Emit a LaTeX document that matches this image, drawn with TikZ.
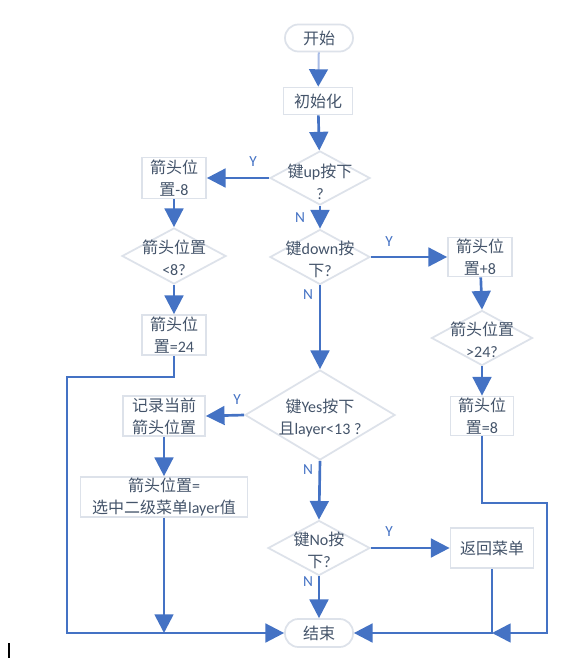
\documentclass[tikz,border=0pt]{standalone}
\usepackage{fontspec}
\setmainfont{Carlito}
\newfontfamily\cjk{Noto Sans CJK SC}
\usetikzlibrary{arrows.meta,shapes.geometric}
\definecolor{ab}{HTML}{4472C4}
\definecolor{al}{HTML}{A9BCE6}
\definecolor{bd}{HTML}{DDE2EA}
\definecolor{tx}{HTML}{44546A}
\newcommand\zh[1]{{\cjk #1}}
\begin{document}
\begin{tikzpicture}[x=0.75pt,y=-0.75pt,
 base/.style={draw=bd,line width=1.3pt,text=tx,font=\fontsize{12pt}{16.5pt}\selectfont,align=center,inner sep=0pt},
 box/.style={base,rectangle},
 term/.style={base,rectangle,rounded corners=10pt},
 dia/.style={base,diamond},
 txt/.style={text=tx,font=\fontsize{12pt}{16.5pt}\selectfont,align=center,inner sep=0pt},
 lab/.style={text=ab,font=\fontsize{11.5pt}{13pt}\selectfont,inner sep=0pt},
 flow/.style={draw=ab,line width=2pt,-{Triangle[length=14pt,width=14pt]}},
 link/.style={draw=ab,line width=2pt}]
\fill[white] (0,0) rectangle (580,665);
\useasboundingbox (0,0) rectangle (580,665);
% nodes
\node[term,minimum width=51pt,minimum height=20.25pt] (start) at (319,38) {\zh{开始}};
\node[box,minimum width=51.75pt,minimum height=20.25pt] (init) at (318,101) {\zh{初始化}};
\node[dia,minimum width=75pt,minimum height=40.5pt] (d1) at (320,178) {};
\node[txt] (t1) at (320,182) {\zh{键}up\zh{按下}\\?};
\node[box,minimum width=48pt,minimum height=30.75pt] (bm8) at (174,178) {\zh{箭头位}\\\zh{置}-8};
\node[dia,minimum width=78pt,minimum height=42pt] (d2) at (174,256) {};
\node[txt] (t2) at (174,258) {\zh{箭头位置}\\<8?};
\node[box,minimum width=48pt,minimum height=30pt] (b24) at (174,335) {\zh{箭头位}\\\zh{置}=24};
\node[dia,minimum width=75pt,minimum height=41.25pt] (d3) at (320,257) {};
\node[txt] (t3) at (320,259) {\zh{键}down\zh{按}\\\zh{下}?};
\node[box,minimum width=48pt,minimum height=29.25pt] (bp8) at (480,257) {\zh{箭头位}\\\zh{置}+8};
\node[dia,minimum width=75.75pt,minimum height=41.25pt] (d4) at (482,338) {};
\node[txt] (t4) at (482,340) {\zh{箭头位置}\\>24?};
\node[box,minimum width=47.25pt,minimum height=29.25pt] (b8) at (482,416) {\zh{箭头位}\\\zh{置}=8};
\node[dia,minimum width=112.5pt,minimum height=67.5pt] (d5) at (320,415) {};
\node[txt] (t5) at (320,418) {\zh{键}Yes\zh{按下}\\\zh{且}layer<13 ?};
\node[box,minimum width=61.5pt,minimum height=30pt] (brec) at (164,416) {\zh{记录当前}\\\zh{箭头位置}};
\node[box,minimum width=125.25pt,minimum height=30pt] (bsel) at (164,497) {\zh{箭头位置}=\\\zh{选中二级菜单}layer\zh{值}};
\node[dia,minimum width=76.5pt,minimum height=41.25pt] (d6) at (319,548) {};
\node[txt] (t6) at (319,550) {\zh{键}No\zh{按}\\\zh{下}?};
\node[box,minimum width=62.25pt,minimum height=30pt] (bret) at (492,548) {\zh{返回菜单}};
\node[term,minimum width=51pt,minimum height=21pt] (end) at (319,633) {\zh{结束}};
% coordinates
\coordinate (l1) at (67,377);
\coordinate (r1) at (547,503);
\coordinate (j) at (bret.south |- end);
% connectors
\draw[draw=al,line width=1.5pt,-{Triangle[length=13pt,width=14pt,color=ab]}] (start) -- (init);
\draw[flow] (init) -- (d1);
\draw[flow] (d1.west) -- (bm8.east);
\draw[flow] (bm8) -- (d2.north);
\draw[flow] (d2.south) -- (b24);
\draw[flow] (b24.south) |- (l1) |- (end.west);
\draw[flow] (d1.south) -- (d3.north);
\draw[flow] (d3.east) -- (bp8.west);
\draw[flow] (bp8) -- (d4.north);
\draw[flow] (d4.south) -- (b8);
\draw[flow] (b8.south) |- (r1) |- (j);
\draw[flow] (bret.south) |- (end.east);
\draw[flow] (d3.south) -- (d5.north);
\draw[flow] (d5.west) -- (brec.east);
\draw[flow] (brec) -- (bsel);
\draw[flow] (bsel.south) -- (bsel.south |- end);
\draw[flow] (d5.south) -- (d6.north);
\draw[flow] (d6.east) -- (bret.west);
\draw[flow] (d6.south) -- (end);
% labels
\node[lab] (y1) at (253,162) {Y};
\node[lab] (y2) at (389,242) {Y};
\node[lab] (y3) at (237,400) {Y};
\node[lab] (y4) at (389,532) {Y};
\node[lab] (n1) at (300,218) {N};
\node[lab] (n2) at (308,295) {N};
\node[lab] (n3) at (308,470) {N};
\node[lab] (n4) at (308,582) {N};
% cursor mark
\draw[black,line width=0.8pt] (9,643) -- (9,658);
\end{tikzpicture}
\end{document}
